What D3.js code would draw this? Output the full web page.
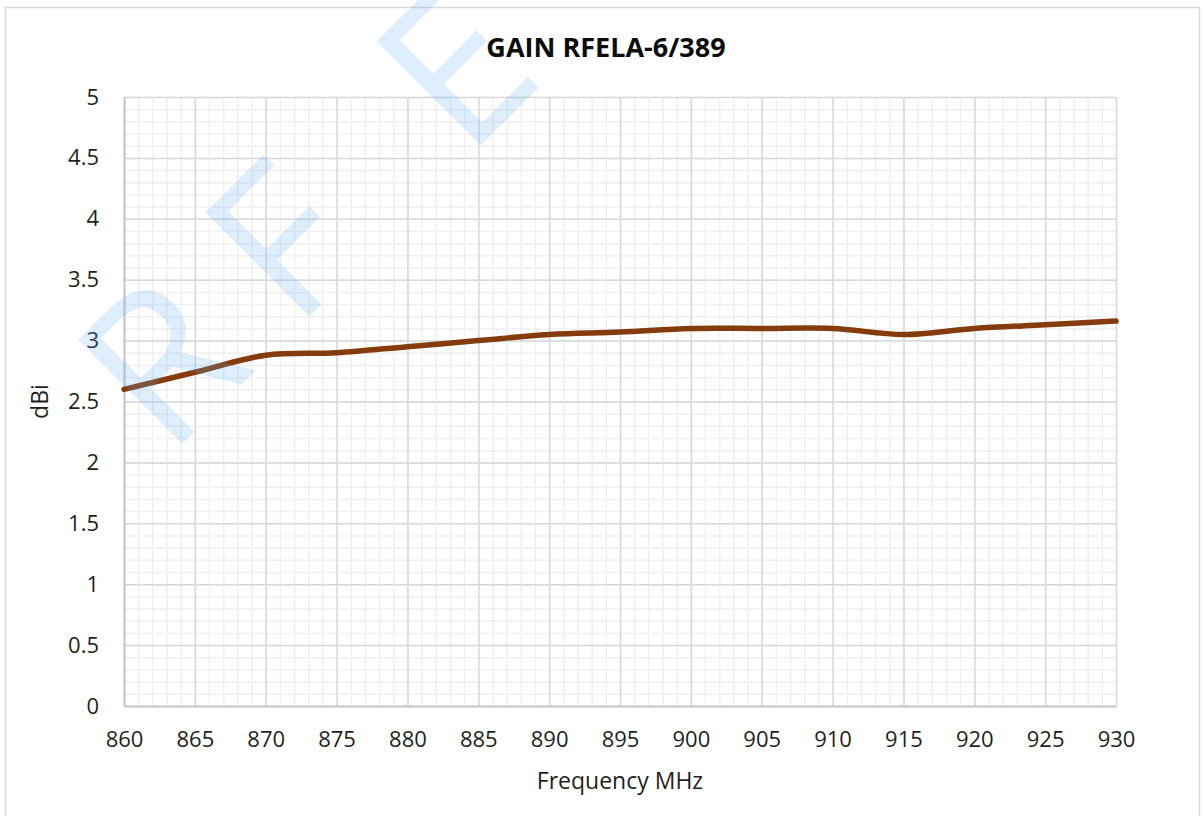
<!DOCTYPE html>
<html>
<head>
<meta charset="utf-8">
<script src="https://cdn.jsdelivr.net/npm/d3@7"></script>
<style>
  html, body { margin: 0; padding: 0; background: #ffffff; }
  #chart { width: 1203px; height: 816px; }
</style>
</head>
<body>
<div id="chart"></div>
<script>
// Gain vs frequency chart (RFELA-6/389)
var freqs = [860, 865, 870, 875, 880, 885, 890, 895, 900, 905, 910, 915, 920, 925, 930];
var gain = [2.60, 2.74, 2.88, 2.90, 2.95, 3.00, 3.05, 3.07, 3.10, 3.10, 3.10, 3.05, 3.10, 3.13, 3.16];
var xTicks = [860, 865, 870, 875, 880, 885, 890, 895, 900, 905, 910, 915, 920, 925, 930];
var yTicks = [0, 0.5, 1, 1.5, 2, 2.5, 3, 3.5, 4, 4.5, 5];
var chartTitle = 'GAIN RFELA-6/389';
var xTitle = 'Frequency MHz';
var yTitle = 'dBi';

(function(){
  var W = 1203, H = 816;
  var margin = { top: 97, right: 87, bottom: 110, left: 124 };
  var width = W - margin.left - margin.right;
  var height = H - margin.top - margin.bottom;
  var font = "'Open Sans', 'DejaVu Sans', sans-serif";

  var svg = d3.select('#chart').append('svg')
    .attr('width', W)
    .attr('height', H)
    .style('font-family', font);

  // chart area border
  svg.append('rect')
    .attr('x', 5.5).attr('y', 7.5)
    .attr('width', 1194).attr('height', 830)
    .attr('fill', '#ffffff')
    .attr('stroke', '#d9d9d9')
    .attr('stroke-width', 1.5);

  var g = svg.append('g').attr('transform', 'translate(' + margin.left + ',' + margin.top + ')');

  var x = d3.scaleLinear().domain([860, 930]).range([0, width]);
  var y = d3.scaleLinear().domain([0, 5]).range([height, 0]);

  // minor grid (1 MHz / 0.1 dBi)
  var minorX = d3.range(860, 931, 1);
  var minorY = d3.range(0, 51, 1).map(function(d){ return d / 10; });
  var gm = g.append('g').attr('class', 'grid-minor');
  gm.append('g')
    .call(d3.axisBottom(x).tickValues(minorX).tickSize(height).tickFormat(''))
    .call(function(s){ s.select('.domain').remove(); })
    .selectAll('line').attr('stroke', '#f0f0f0').attr('stroke-width', 1.5);
  gm.append('g')
    .call(d3.axisLeft(y).tickValues(minorY).tickSize(-width).tickFormat(''))
    .call(function(s){ s.select('.domain').remove(); })
    .selectAll('line').attr('stroke', '#f0f0f0').attr('stroke-width', 1.5);

  // major grid
  var gM = g.append('g').attr('class', 'grid-major');
  gM.append('g')
    .call(d3.axisBottom(x).tickValues(xTicks).tickSize(height).tickFormat(''))
    .call(function(s){ s.select('.domain').remove(); })
    .selectAll('line').attr('stroke', '#d9d9d9').attr('stroke-width', 1.5);
  gM.append('g')
    .call(d3.axisLeft(y).tickValues(yTicks).tickSize(-width).tickFormat(''))
    .call(function(s){ s.select('.domain').remove(); })
    .selectAll('line').attr('stroke', '#d9d9d9').attr('stroke-width', 1.5);

  // axes
  var ax = g.append('g')
    .attr('transform', 'translate(0,' + height + ')')
    .call(d3.axisBottom(x).tickValues(xTicks).tickSize(0).tickFormat(d3.format('d')));
  ax.select('.domain').attr('stroke', '#c8c8c8').attr('stroke-width', 2);
  ax.selectAll('text')
    .attr('y', 41).attr('dy', 0)
    .style('font-family', font).style('font-size', '22px').style('fill', '#1f1f1f');

  var ay = g.append('g')
    .call(d3.axisLeft(y).tickValues(yTicks).tickSize(0).tickFormat(function(d){ return String(d); }));
  ay.select('.domain').attr('stroke', '#c8c8c8').attr('stroke-width', 2);
  ay.selectAll('text')
    .attr('x', -25).attr('dy', '0.32em')
    .style('font-family', font).style('font-size', '22px').style('fill', '#1f1f1f');

  // data line
  var rows = freqs.map(function(f, i){ return { f: f, v: gain[i] }; });
  var line = d3.line()
    .x(function(d){ return x(d.f); })
    .y(function(d){ return y(d.v); })
    .curve(d3.curveCatmullRom.alpha(0.5));
  g.append('path')
    .datum(rows)
    .attr('d', line)
    .attr('fill', 'none')
    .attr('stroke', '#843c0c')
    .attr('stroke-width', 5.5)
    .attr('stroke-linecap', 'round')
    .attr('stroke-linejoin', 'round');

  // titles
  svg.append('text')
    .attr('x', 606).attr('y', 57)
    .attr('text-anchor', 'middle')
    .style('font-size', '27px').style('font-weight', '700').style('fill', '#0d0d0d')
    .text(chartTitle);

  svg.append('text')
    .attr('x', margin.left + width / 2).attr('y', 789)
    .attr('text-anchor', 'middle')
    .style('font-size', '23px').style('fill', '#1f1f1f')
    .text(xTitle);

  svg.append('text')
    .attr('transform', 'translate(48,' + (margin.top + height / 2) + ') rotate(-90)')
    .attr('text-anchor', 'middle')
    .style('font-size', '23px').style('fill', '#1f1f1f')
    .text(yTitle);

  // watermark (runs off the top edge, as in the original)
  var wm = svg.append('g')
    .attr('transform', 'translate(168,458) rotate(-45)')
    .style('pointer-events', 'none');
  wm.append('text')
    .style('font-size', '206px')
    .style('font-weight', '400')
    .style('fill', '#5aa9f5')
    .style('fill-opacity', 0.2)
    .selectAll('tspan')
    .data([{ t: 'R', x: 0 }, { t: 'F', x: 180 }, { t: 'E', x: 422 }])
    .enter().append('tspan')
    .attr('x', function(d){ return d.x; })
    .attr('y', 0)
    .text(function(d){ return d.t; });
})();
</script>
</body>
</html>
